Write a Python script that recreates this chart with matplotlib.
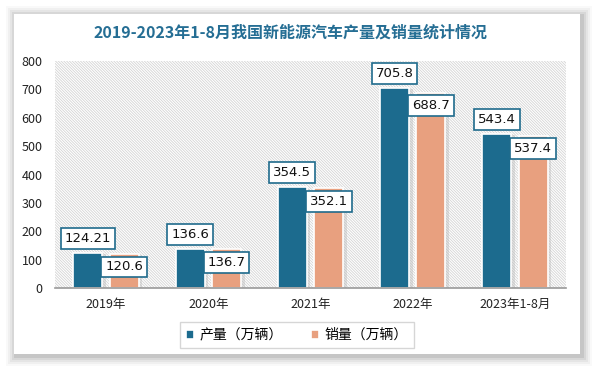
import matplotlib
matplotlib.use("Agg")
import matplotlib.pyplot as plt
from matplotlib.patches import Rectangle
import numpy as np

plt.rcParams['font.family'] = ['Noto Sans CJK SC', 'DejaVu Sans']

categories = ["2019年", "2020年", "2021年", "2022年", "2023年1-8月"]
production = [124.21, 136.6, 354.5, 705.8, 543.4]
sales = [120.6, 136.7, 352.1, 688.7, 537.4]
prod_labels = ["124.21", "136.6", "354.5", "705.8", "543.4"]
sales_labels = ["120.6", "136.7", "352.1", "688.7", "537.4"]
series_names = ["产量（万辆）", "销量（万辆）"]
title = "2019-2023年1-8月我国新能源汽车产量及销量统计情况"

blue = "#1c6b8e"
orange = "#e8a07f"
edge = "#1f6b8c"

W, H = 595, 370
fig = plt.figure(figsize=(W/100, H/100), dpi=100)
fig.patch.set_facecolor("white")

# card shadow
cx0, cy0, cx1, cy1 = 14, 14, 580, 354
for i, a in enumerate([0.025, 0.035, 0.045, 0.06, 0.08]):
    pad = (5 - i) * 2
    fig.patches.append(Rectangle(((cx0 - pad + 2)/W, 1 - (cy1 + pad + 2)/H),
                                 (cx1 - cx0 + 2*pad)/W, (cy1 - cy0 + 2*pad)/H,
                                 transform=fig.transFigure, facecolor="black", alpha=a,
                                 edgecolor="none", zorder=0))
fig.patches.append(Rectangle((cx0/W, 1 - cy1/H), (cx1 - cx0)/W, (cy1 - cy0)/H,
                             transform=fig.transFigure, facecolor="white", edgecolor="none", zorder=1))

ax_l, ax_r, ax_t, ax_b = 55, 566, 61, 288
ax = fig.add_axes([ax_l/W, 1 - ax_b/H, (ax_r - ax_l)/W, (ax_b - ax_t)/H])
ax.set_zorder(2)
ax.patch.set_alpha(0)

# hatched background
plt.rcParams['hatch.color'] = '#d4d4d4'
plt.rcParams['hatch.linewidth'] = 0.6
ax.add_patch(Rectangle((0, 0), 1, 1, transform=ax.transAxes, facecolor="white",
                       edgecolor="#d4d4d4", hatch="\\" * 12, linewidth=0, zorder=0))

x = np.arange(len(categories))
bw = 0.285
off = 0.178
# shadows
ax.bar(x - off + 0.035, production, bw, bottom=-5, color="#b0b0b0", alpha=0.35, zorder=1, linewidth=0)
ax.bar(x + off + 0.035, sales, bw, bottom=-5, color="#b0b0b0", alpha=0.35, zorder=1, linewidth=0)
ax.bar(x - off, production, bw, color=blue, edgecolor="white", linewidth=1.2, zorder=2, label=series_names[0])
ax.bar(x + off, sales, bw, color=orange, edgecolor="white", linewidth=1.2, zorder=2, label=series_names[1])

bbox = dict(boxstyle="square,pad=0.3", facecolor="white", edgecolor=edge, linewidth=1.2)
for i in range(len(categories)):
    ax.annotate(prod_labels[i], (x[i] - off, production[i]), xytext=(0, 10.5), textcoords="offset points",
                ha="center", va="center", fontsize=9.5, color="#111111", bbox=bbox, zorder=5,
                family="DejaVu Sans")
    ax.annotate(sales_labels[i], (x[i] + off, sales[i]), xytext=(0, -9.5), textcoords="offset points",
                ha="center", va="center", fontsize=9.5, color="#111111", bbox=bbox, zorder=5,
                family="DejaVu Sans")

ax.set_xlim(-0.5, len(categories) - 0.5)
ax.set_ylim(0, 800)
ax.set_yticks(range(0, 801, 100))
ax.set_xticks(x)
ax.set_xticklabels(categories)
ax.tick_params(axis="both", length=0, labelsize=9, colors="#222222")
ax.tick_params(axis="y", pad=9)
ax.tick_params(axis="x", pad=7)
for s in ["top", "right", "left"]:
    ax.spines[s].set_visible(False)
ax.spines["bottom"].set_color("#999999")
ax.spines["bottom"].set_linewidth(1.2)
ax.spines["bottom"].set_zorder(3)

fig.text(290/W, 1 - 33/H, title, ha="center", va="center", fontsize=11.5, fontweight="bold",
         color="#256e94", zorder=5)

leg = ax.legend(loc="center", bbox_to_anchor=((297 - ax_l)/(ax_r - ax_l), -(335 - ax_b)/(ax_b - ax_t)), ncol=2,
                frameon=True, fontsize=10, handlelength=0.6, handleheight=0.6,
                handletextpad=0.4, columnspacing=2.0, borderpad=0.4, fancybox=False)
leg.get_frame().set_edgecolor("#cccccc")
leg.get_frame().set_linewidth(1.0)

fig.savefig("out.png", dpi=100, facecolor=fig.get_facecolor())
